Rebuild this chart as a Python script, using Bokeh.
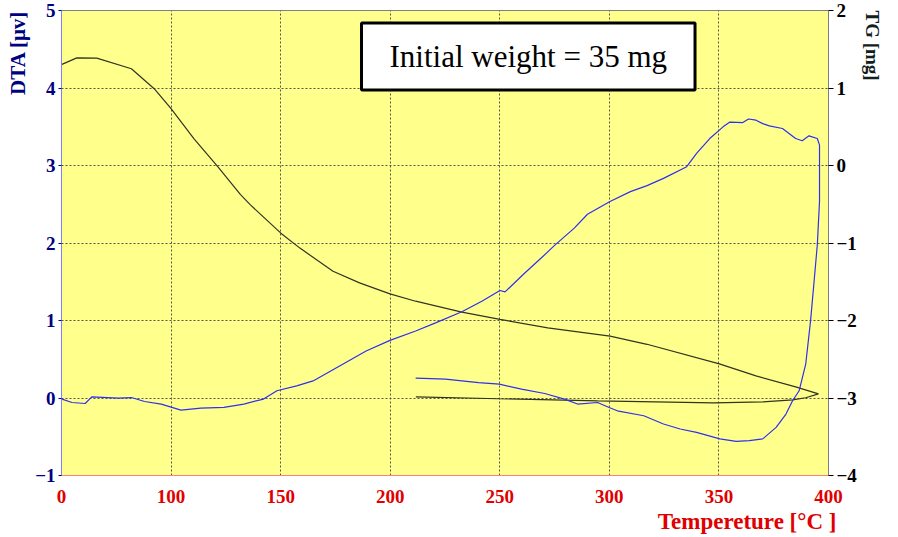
import math
from bokeh.plotting import figure
from bokeh.models import Range1d, LinearAxis, FixedTicker, Title, Label
from bokeh.embed import file_html
from bokeh.resources import INLINE

# ---------------- data (x in axis units; the first tick, 50, is labelled "0") ----------
x_ticks = [50, 100, 150, 200, 250, 300, 350, 400]
x_tick_labels = ["0", "100", "150", "200", "250", "300", "350", "400"]
dta_ticks = [-1, 0, 1, 2, 3, 4, 5]
tg_ticks = [-4, -3, -2, -1, 0, 1, 2]

# DTA curve (heating then cooling loop)
dta_t = [50.2, 54.8, 60.8, 63.8, 75.9, 81.9, 87.9, 95.5, 104.5, 113.6, 124.1, 133.2,
         142.2, 148.3, 157.3, 164.8, 176.9, 189.0, 199.9, 211.6, 220.7, 232.7, 241.8,
         250.1, 252.4, 261.4, 268.9, 275.0, 284.0, 290.0, 300.3, 309.6, 317.2, 324.7,
         335.3, 339.8, 345.8, 351.9, 355.0, 360.9, 363.5, 366.9, 370.0, 373.0, 379.0,
         385.0, 388.0, 391.1, 394.9, 395.9, 395.9, 394.9, 393.3, 391.8, 389.6, 386.6,
         383.6, 380.6, 376.1, 370.0, 363.9, 357.9, 350.4, 339.8, 332.3, 324.7, 315.7,
         303.6, 299.9, 294.6, 285.5, 279.5, 270.5, 259.9, 249.8, 240.3, 225.2, 211.6]
dta_v = [-0.014, -0.058, -0.071, 0.015, -0.001, 0.006, -0.045, -0.079, -0.156, -0.130,
         -0.122, -0.078, -0.014, 0.093, 0.157, 0.220, 0.414, 0.607, 0.744, 0.864, 0.970,
         1.112, 1.249, 1.387, 1.369, 1.613, 1.806, 1.969, 2.192, 2.371, 2.535, 2.663,
         2.740, 2.834, 2.985, 3.156, 3.348, 3.499, 3.560, 3.554, 3.600, 3.585, 3.540,
         3.512, 3.477, 3.348, 3.320, 3.383, 3.348, 3.263, 2.535, 1.978, 1.464, 0.992,
         0.436, 0.093, -0.036, -0.207, -0.379, -0.528, -0.550, -0.559, -0.528, -0.443,
         -0.400, -0.335, -0.229, -0.165, -0.122, -0.058, -0.078, -0.014, 0.058, 0.114,
         0.179, 0.199, 0.243, 0.256]

# TG curve (mg)
tg_t = [50.2, 57.0, 66.1, 81.9, 92.3, 100.0, 110.4, 121.3, 131.7, 136.2, 150.1, 158.8,
        173.9, 186.0, 199.9, 211.6, 232.7, 250.1, 271.9, 300.3, 317.2, 350.2, 366.9,
        385.0, 395.4, 389.6, 383.7, 370.1, 347.5, 294.6, 249.3, 211.7]
tg_v = [1.305, 1.389, 1.386, 1.248, 0.991, 0.734, 0.348, -0.015, -0.375, -0.508, -0.873,
        -1.066, -1.365, -1.515, -1.657, -1.751, -1.892, -1.986, -2.094, -2.201, -2.307,
        -2.560, -2.715, -2.856, -2.946, -2.997, -3.023, -3.049, -3.062, -3.036, -3.010,
        -2.985]

note_text = "Initial weight = 35 mg"

SERIF = "Liberation Serif"

p = figure(width=896, height=535, x_range=Range1d(50, 400), y_range=Range1d(-1, 5),
           output_backend="svg", toolbar_location=None,
           background_fill_color="#FFFF8C", border_fill_color="white")
p.min_border_left = 60
p.min_border_right = 63
p.min_border_top = 10
p.min_border_bottom = 60
p.outline_line_color = "#808080"

p.extra_y_ranges = {"tg": Range1d(-4, 2)}

# x axis
xa = p.xaxis[0]
xa.ticker = FixedTicker(ticks=x_ticks)
xa.major_label_overrides = {t: l for t, l in zip(x_ticks, x_tick_labels)}
xa.axis_line_color = "#FF8080"
xa.major_tick_line_color = None
xa.minor_tick_line_color = None
xa.major_label_text_font = SERIF
xa.major_label_text_font_size = "19px"
xa.major_label_text_font_style = "bold"
xa.major_label_text_color = "#E00000"
xa.major_label_standoff = 8

# left axis
ya = p.yaxis[0]
ya.ticker = FixedTicker(ticks=dta_ticks)
ya.axis_line_color = "#8080FF"
ya.major_tick_line_color = "#000080"
ya.major_tick_out = 3
ya.major_tick_in = 0
ya.minor_tick_line_color = None
ya.major_label_text_font = SERIF
ya.major_label_text_font_size = "19px"
ya.major_label_text_font_style = "bold"
ya.major_label_text_color = "#000080"
ya.major_label_standoff = 3

# right axis, its title placed at the top
ra = LinearAxis(y_range_name="tg", ticker=FixedTicker(ticks=tg_ticks))
ra.axis_line_color = "#808080"
ra.major_tick_line_color = "black"
ra.major_tick_out = 5
ra.major_tick_in = 0
ra.minor_tick_line_color = None
ra.major_label_text_font = SERIF
ra.major_label_text_font_size = "19px"
ra.major_label_text_font_style = "bold"
ra.major_label_text_color = "black"
ra.major_label_standoff = 3
ra.axis_label = "TG [mg]"
ra.axis_label_text_font = SERIF
ra.axis_label_text_font_size = "19px"
ra.axis_label_text_font_style = "bold"
ra.axis_label_text_color = "#102020"
ra.axis_label_standoff = 13
ra.axis_label_orientation = -math.pi / 2
if "axis_label_align" in ra.properties():
    ra.axis_label_align = "end"
p.add_layout(ra, "right")

# grids
for g in (p.xgrid[0], p.ygrid[0]):
    g.grid_line_color = "#555555"
    g.grid_line_dash = "2 2"
    g.grid_line_width = 1
p.xgrid[0].ticker = FixedTicker(ticks=x_ticks)
p.ygrid[0].ticker = FixedTicker(ticks=dta_ticks)

# curves
p.line(tg_t, tg_v, y_range_name="tg", line_color="#333322", line_width=1.2)
p.line(dta_t, dta_v, line_color="#2F2FF0", line_width=1.2)

# note box
p.add_layout(Label(x=263.0, y=4.406, text=note_text, text_align="center",
                   text_baseline="middle", text_font=SERIF, text_font_size="31px",
                   text_color="black", background_fill_color="white",
                   border_line_color="black", border_line_width=3,
                   padding=dict(left=28, right=28, top=16, bottom=16)))

# axis titles
p.add_layout(Title(text="DTA [μv]", align="right", text_font=SERIF, text_font_size="21px",
                   text_font_style="bold", text_color="#000080", standoff=6), "left")
p.add_layout(Title(text="Tempereture [°C ]", align="right", text_font=SERIF,
                   text_font_size="23px", text_font_style="bold", text_color="#E00000",
                   standoff=2, offset=-8), "below")

open("out.html", "w").write(file_html(p, INLINE))
